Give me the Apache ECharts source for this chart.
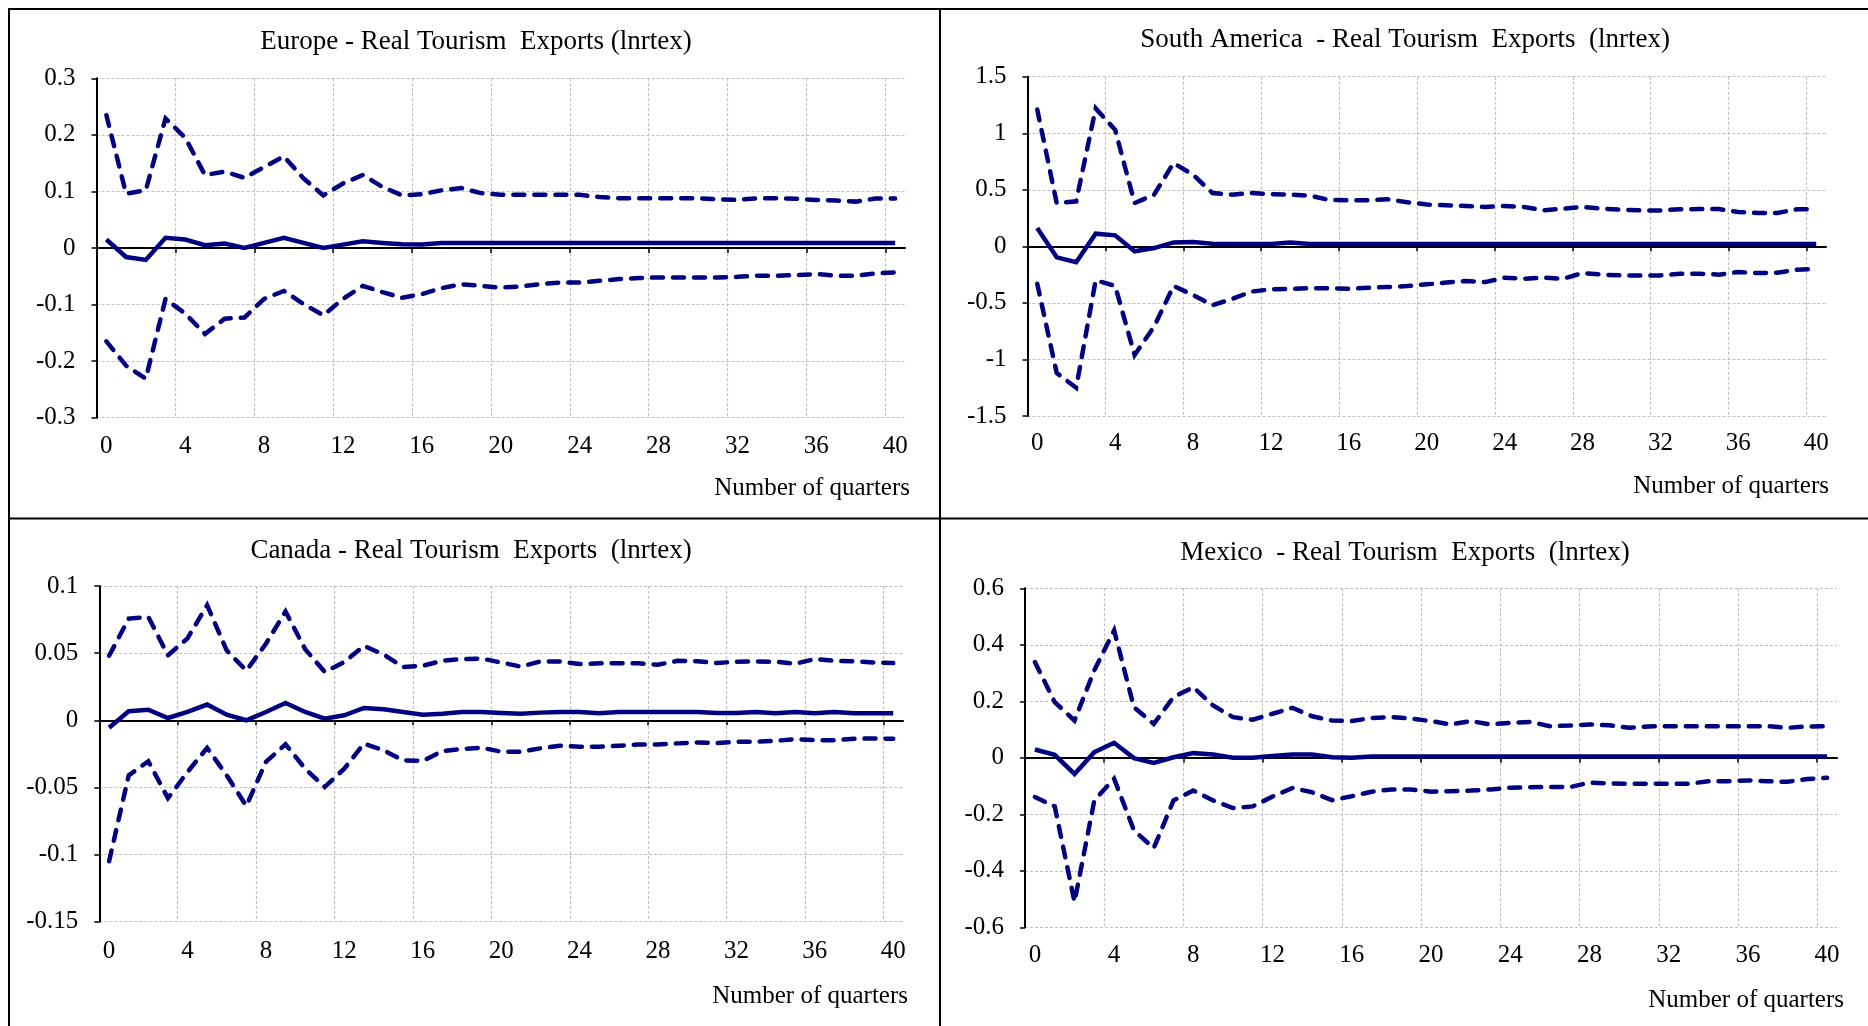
<!DOCTYPE html>
<html>
<head>
<meta charset="utf-8">
<script src="https://cdn.jsdelivr.net/npm/echarts@6/dist/echarts.min.js"></script>
<style>html,body{margin:0;padding:0;background:#fff}#c{width:1868px;height:1026px}</style>
</head>
<body>
<div id="c"></div>
<script>
// ---------- data ----------
const quarters = ['0','1','2','3','4','5','6','7','8','9','10','11','12','13','14','15','16','17','18','19','20',
  '21','22','23','24','25','26','27','28','29','30','31','32','33','34','35','36','37','38','39','40'];
const bandEdges = quarters.concat(['41']);

const europeYTicks = [-0.3, -0.2, -0.1, 0, 0.1, 0.2, 0.3];
const europeUpper = [0.235, 0.096, 0.102, 0.229, 0.195, 0.129, 0.135, 0.124, 0.143, 0.162,
  0.123, 0.093, 0.114, 0.129, 0.108, 0.093, 0.095, 0.102, 0.106, 0.097,
  0.094, 0.094, 0.094, 0.094, 0.094, 0.090, 0.088, 0.088, 0.088, 0.088,
  0.088, 0.086, 0.085, 0.088, 0.088, 0.087, 0.085, 0.084, 0.082, 0.0875, 0.0875];
const europeIrf = [0.015, -0.016, -0.021, 0.018, 0.015, 0.005, 0.008, 0.0, 0.009, 0.018,
  0.009, 0.0, 0.006, 0.012, 0.009, 0.0065, 0.006, 0.009, 0.009, 0.009,
  0.009, 0.009, 0.009, 0.009, 0.009, 0.009, 0.009, 0.009, 0.009, 0.009,
  0.009, 0.009, 0.009, 0.009, 0.009, 0.009, 0.009, 0.009, 0.009, 0.009, 0.009];
const europeLower = [-0.165, -0.208, -0.231, -0.09, -0.116, -0.152, -0.125, -0.123, -0.09, -0.076,
  -0.099, -0.119, -0.09, -0.067, -0.078, -0.088, -0.0815, -0.071, -0.064, -0.067,
  -0.070, -0.068, -0.064, -0.061, -0.061, -0.058, -0.055, -0.053, -0.052, -0.052,
  -0.052, -0.052, -0.051, -0.049, -0.049, -0.048, -0.046, -0.049, -0.049, -0.045, -0.043];

const southAmericaYTicks = [-1.5, -1, -0.5, 0, 0.5, 1, 1.5];
const southAmericaUpper = [1.21, 0.383, 0.398, 1.22, 1.03, 0.383, 0.457, 0.736, 0.633, 0.471,
  0.457, 0.471, 0.462, 0.457, 0.448, 0.41, 0.407, 0.407, 0.416, 0.39,
  0.37, 0.363, 0.357, 0.348, 0.357, 0.348, 0.318, 0.333, 0.348, 0.333,
  0.324, 0.318, 0.318, 0.327, 0.33, 0.33, 0.304, 0.295, 0.295, 0.327, 0.327];
const southAmericaIrf = [0.162, -0.097, -0.141, 0.112, 0.097, -0.044, -0.015, 0.035, 0.038, 0.024,
  0.02, 0.02, 0.02, 0.035, 0.02, 0.02, 0.02, 0.02, 0.02, 0.02,
  0.02, 0.02, 0.02, 0.02, 0.02, 0.02, 0.02, 0.02, 0.02, 0.02,
  0.02, 0.02, 0.02, 0.02, 0.02, 0.02, 0.02, 0.02, 0.02, 0.02, 0.02];
const southAmericaLower = [-0.33, -1.12, -1.25, -0.30, -0.35, -0.96, -0.71, -0.35, -0.43, -0.52,
  -0.465, -0.40, -0.38, -0.377, -0.37, -0.37, -0.375, -0.366, -0.36, -0.351,
  -0.336, -0.32, -0.307, -0.316, -0.277, -0.286, -0.277, -0.286, -0.236, -0.25,
  -0.257, -0.257, -0.257, -0.242, -0.242, -0.25, -0.227, -0.236, -0.233, -0.206, -0.2];

const canadaYTicks = [-0.15, -0.1, -0.05, 0, 0.05, 0.1];
const canadaUpper = [0.048, 0.0757, 0.077, 0.0484, 0.061, 0.0857, 0.052, 0.037, 0.057, 0.081,
  0.053, 0.036, 0.0434, 0.0554, 0.049, 0.0397, 0.0406, 0.0443, 0.0456, 0.046,
  0.043, 0.040, 0.0438, 0.0438, 0.0419, 0.0424, 0.0424, 0.0424, 0.0414, 0.0443,
  0.044, 0.0426, 0.0436, 0.0438, 0.0436, 0.0421, 0.0456, 0.0443, 0.044, 0.0431, 0.0426];
const canadaIrf = [-0.0055, 0.0067, 0.0079, 0.0017, 0.0062, 0.0117, 0.0042, 0.0, 0.0062, 0.0129,
  0.0062, 0.0012, 0.0037, 0.0092, 0.0082, 0.0062, 0.0042, 0.0049, 0.0062, 0.0062,
  0.0054, 0.0049, 0.0057, 0.0062, 0.0062, 0.0052, 0.0062, 0.0062, 0.0062, 0.0062,
  0.0062, 0.0054, 0.0054, 0.0062, 0.0052, 0.0062, 0.0052, 0.0062, 0.0052, 0.0052, 0.0052];
const canadaLower = [-0.105, -0.041, -0.0305, -0.058, -0.0385, -0.0206, -0.041, -0.0638, -0.031, -0.0179,
  -0.036, -0.0497, -0.036, -0.0174, -0.0223, -0.0298, -0.0303, -0.0229, -0.0214, -0.0204,
  -0.0234, -0.0234, -0.0209, -0.019, -0.0197, -0.0197, -0.019, -0.018, -0.018, -0.0172,
  -0.0165, -0.017, -0.016, -0.016, -0.0153, -0.014, -0.0148, -0.0148, -0.0138, -0.0135, -0.0138];

const mexicoYTicks = [-0.6, -0.4, -0.2, 0, 0.2, 0.4, 0.6];
const mexicoUpper = [0.339, 0.197, 0.132, 0.31, 0.451, 0.179, 0.12, 0.215, 0.25, 0.185,
  0.144, 0.135, 0.156, 0.177, 0.147, 0.132, 0.13, 0.141, 0.144, 0.139,
  0.13, 0.118, 0.13, 0.118, 0.124, 0.127, 0.112, 0.114, 0.118, 0.115,
  0.106, 0.111, 0.112, 0.112, 0.112, 0.112, 0.112, 0.112, 0.106, 0.111, 0.112];
const mexicoIrf = [0.0295, 0.0106, -0.057, 0.02, 0.053, -0.001, -0.018, 0.002, 0.0165, 0.012,
  0.0, 0.0, 0.006, 0.012, 0.012, 0.002, 0.0, 0.005, 0.005, 0.005,
  0.005, 0.005, 0.005, 0.005, 0.005, 0.005, 0.005, 0.005, 0.005, 0.005,
  0.005, 0.005, 0.005, 0.005, 0.005, 0.005, 0.005, 0.005, 0.005, 0.005, 0.005];
const mexicoLower = [-0.139, -0.172, -0.51, -0.151, -0.074, -0.257, -0.32, -0.151, -0.116, -0.151,
  -0.178, -0.172, -0.137, -0.107, -0.122, -0.15, -0.136, -0.12, -0.112, -0.112,
  -0.12, -0.118, -0.116, -0.112, -0.106, -0.104, -0.103, -0.104, -0.088, -0.091,
  -0.092, -0.092, -0.092, -0.092, -0.083, -0.083, -0.08, -0.083, -0.085, -0.075, -0.071];

const titles = ['Europe - Real Tourism  Exports (lnrtex)',
  'South America  - Real Tourism  Exports  (lnrtex)',
  'Canada - Real Tourism  Exports  (lnrtex)',
  'Mexico  - Real Tourism  Exports  (lnrtex)'];
const xAxisTitle = 'Number of quarters';

// ---------- layout ----------
const FONT = "'Liberation Serif', 'Times New Roman', serif";
const NAVY = '#000080';
const GRIDC = '#c0c0c0';
const panels = [
  {title: titles[0], upper: europeUpper, mid: europeIrf, lower: europeLower, ticks: europeYTicks,
   grid: {left: 96.5, top: 78.3, width: 808.5, height: 339.4}, titleXY: [476, 42], nameXY: [910, 488], lm: 16},
  {title: titles[1], upper: southAmericaUpper, mid: southAmericaIrf, lower: southAmericaLower, ticks: southAmericaYTicks,
   grid: {left: 1027.5, top: 76.7, width: 798.5, height: 339.3}, titleXY: [1405, 40], nameXY: [1829, 486], lm: 15},
  {title: titles[2], upper: canadaUpper, mid: canadaIrf, lower: canadaLower, ticks: canadaYTicks,
   grid: {left: 99.3, top: 586, width: 803.7, height: 335.7}, titleXY: [471, 551], nameXY: [908, 996], lm: 17},
  {title: titles[3], upper: mexicoUpper, mid: mexicoIrf, lower: mexicoLower, ticks: mexicoYTicks,
   grid: {left: 1025, top: 588.3, width: 812, height: 339}, titleXY: [1405, 553], nameXY: [1844, 1000], lm: 16}
];

const fmt = v => String(parseFloat(Number(v).toFixed(4)));

const grids = [], xAxes = [], yAxes = [], series = [], graphics = [];
panels.forEach((p, i) => {
  grids.push(Object.assign({containLabel: false, outerBoundsMode: 'none'}, p.grid));
  xAxes.push({
    type: 'category', gridIndex: i, data: quarters, boundaryGap: true, position: 'bottom',
    axisLine: {show: false, onZero: false}, axisTick: {show: false}, splitLine: {show: false},
    axisLabel: {interval: 3, margin: p.lm, fontFamily: FONT, fontSize: 25, color: '#000'}
  });
  xAxes.push({
    type: 'category', gridIndex: i, data: bandEdges, boundaryGap: false, position: 'bottom',
    axisLine: {show: true, onZero: true, lineStyle: {color: '#000', width: 2}},
    axisTick: {show: true, interval: 3, length: 5, lineStyle: {color: '#000', width: 1.5}},
    axisLabel: {show: false},
    splitLine: {show: true, interval: 3, lineStyle: {color: GRIDC, width: 1.2, type: [3, 2]}}
  });
  const t = p.ticks;
  yAxes.push({
    type: 'value', gridIndex: i, min: t[0], max: t[t.length - 1],
    interval: parseFloat((t[1] - t[0]).toFixed(4)),
    axisLine: {show: true, onZero: false, lineStyle: {color: '#000', width: 2}},
    axisTick: {show: true, length: 5, lineStyle: {color: '#000', width: 1.5}},
    axisLabel: {margin: 21, fontFamily: FONT, fontSize: 25, color: '#000', formatter: fmt},
    splitLine: {show: true, lineStyle: {color: GRIDC, width: 1.2, type: [3, 2]}}
  });
  const mk = (data, dashed) => ({
    type: 'line', xAxisIndex: i * 2, yAxisIndex: i, data: data, symbol: 'none', showSymbol: false,
    silent: true, animation: false, z: 3,
    lineStyle: {color: NAVY, width: 4.5, type: dashed ? [11, 10] : 'solid', cap: dashed ? 'round' : 'butt', join: 'miter'}
  });
  series.push(mk(p.upper, true), mk(p.mid, false), mk(p.lower, true));
  graphics.push({type: 'text', x: p.titleXY[0], y: p.titleXY[1],
    style: {text: p.title, fontFamily: FONT, fontSize: 27, fill: '#000', align: 'center', verticalAlign: 'middle',
      textAlign: 'center', textVerticalAlign: 'middle'}});
  graphics.push({type: 'text', x: p.nameXY[0], y: p.nameXY[1],
    style: {text: xAxisTitle, fontFamily: FONT, fontSize: 25, fill: '#000', align: 'right', verticalAlign: 'middle',
      textAlign: 'right', textVerticalAlign: 'middle'}});
});
// panel borders
const border = (x1, y1, x2, y2) => ({type: 'line', shape: {x1, y1, x2, y2}, style: {stroke: '#000', lineWidth: 2}, z: 10});
graphics.push(border(8, 9, 1868, 9), border(9, 8, 9, 1026), border(940, 9, 940, 1026), border(9, 518.5, 1868, 518.5));

const chart = echarts.init(document.getElementById('c'), null, {renderer: 'canvas'});
chart.setOption({
  animation: false,
  backgroundColor: '#fff',
  grid: grids, xAxis: xAxes, yAxis: yAxes, series: series, graphic: graphics
});
</script>
</body>
</html>
